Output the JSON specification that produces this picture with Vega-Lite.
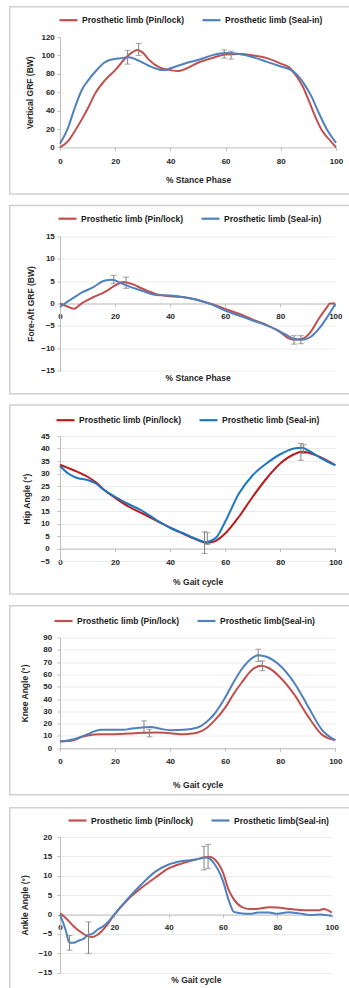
{
"$schema": "https://vega.github.io/schema/vega-lite/v6.json",
"padding": {"left": 8, "top": 5, "right": -3, "bottom": -8},
"background": "white",
"config": {
 "font": "Liberation Sans",
 "view": {"stroke": null},
 "axis": {"labelFont": "Liberation Sans", "labelFontWeight": "bold", "labelFontSize": 8, "labelColor": "#262626", "titleFont": "Liberation Sans", "titleFontWeight": "bold", "titleFontSize": 8.5, "titleColor": "#262626", "domainColor": "#bfbfbf", "tickColor": "#bfbfbf", "tickSize": 3, "gridColor": "#ececec", "labelFlush": false, "labelOverlap": false, "tickCount": 50, "format": "d"},
 "legend": {"labelFont": "Liberation Sans", "labelFontSize": 8.5, "labelFontWeight": "bold", "labelColor": "#1a1a1a", "symbolType": "stroke", "symbolSize": 324, "symbolStrokeWidth": 2.2, "labelOffset": 3, "columnPadding": 13, "padding": 0, "direction": "horizontal", "orient": "none", "title": null}
},
"datasets": {
 "p1": [
  {"x":0,"y":0,"s":"Pin/lock"},{"x":3,"y":7,"s":"Pin/lock"},{"x":5,"y":16,"s":"Pin/lock"},{"x":8,"y":31,"s":"Pin/lock"},{"x":10,"y":42,"s":"Pin/lock"},{"x":13,"y":60,"s":"Pin/lock"},{"x":16,"y":72,"s":"Pin/lock"},{"x":20,"y":84,"s":"Pin/lock"},{"x":24,"y":98,"s":"Pin/lock"},{"x":26,"y":103,"s":"Pin/lock"},{"x":28,"y":106,"s":"Pin/lock"},{"x":30,"y":103,"s":"Pin/lock"},{"x":32,"y":96,"s":"Pin/lock"},{"x":36,"y":87,"s":"Pin/lock"},{"x":40,"y":84,"s":"Pin/lock"},{"x":43,"y":83,"s":"Pin/lock"},{"x":46,"y":86,"s":"Pin/lock"},{"x":50,"y":92,"s":"Pin/lock"},{"x":55,"y":97,"s":"Pin/lock"},{"x":60,"y":101,"s":"Pin/lock"},{"x":65,"y":101.5,"s":"Pin/lock"},{"x":70,"y":100,"s":"Pin/lock"},{"x":75,"y":97,"s":"Pin/lock"},{"x":80,"y":91,"s":"Pin/lock"},{"x":83,"y":87,"s":"Pin/lock"},{"x":86,"y":76,"s":"Pin/lock"},{"x":88,"y":66,"s":"Pin/lock"},{"x":90,"y":52,"s":"Pin/lock"},{"x":93,"y":30,"s":"Pin/lock"},{"x":95,"y":18,"s":"Pin/lock"},{"x":98,"y":7,"s":"Pin/lock"},{"x":100,"y":0,"s":"Pin/lock"},
  {"x":0,"y":4,"s":"Seal-in"},{"x":3,"y":22,"s":"Seal-in"},{"x":5,"y":40,"s":"Seal-in"},{"x":8,"y":63,"s":"Seal-in"},{"x":10,"y":72,"s":"Seal-in"},{"x":13,"y":83,"s":"Seal-in"},{"x":16,"y":92,"s":"Seal-in"},{"x":18,"y":95,"s":"Seal-in"},{"x":22,"y":97,"s":"Seal-in"},{"x":25,"y":98,"s":"Seal-in"},{"x":28,"y":95,"s":"Seal-in"},{"x":32,"y":89,"s":"Seal-in"},{"x":36,"y":84.5,"s":"Seal-in"},{"x":38,"y":84,"s":"Seal-in"},{"x":40,"y":86,"s":"Seal-in"},{"x":45,"y":91,"s":"Seal-in"},{"x":50,"y":95,"s":"Seal-in"},{"x":55,"y":100,"s":"Seal-in"},{"x":60,"y":102.5,"s":"Seal-in"},{"x":65,"y":101.5,"s":"Seal-in"},{"x":70,"y":98,"s":"Seal-in"},{"x":75,"y":93,"s":"Seal-in"},{"x":80,"y":88,"s":"Seal-in"},{"x":83,"y":85,"s":"Seal-in"},{"x":85,"y":81.5,"s":"Seal-in"},{"x":88,"y":71,"s":"Seal-in"},{"x":91,"y":56,"s":"Seal-in"},{"x":94,"y":36,"s":"Seal-in"},{"x":97,"y":18,"s":"Seal-in"},{"x":100,"y":5,"s":"Seal-in"}
 ],
 "e1": [{"x":24.5,"lo":90.5,"hi":105.5},{"x":28.5,"lo":100,"hi":113},{"x":59.5,"lo":97,"hi":106},{"x":62,"lo":96,"hi":104.5}],
 "p2": [
  {"x":0,"y":0,"s":"Pin/lock"},{"x":2,"y":-0.5,"s":"Pin/lock"},{"x":5,"y":-1.2,"s":"Pin/lock"},{"x":8,"y":0.1,"s":"Pin/lock"},{"x":12,"y":1.4,"s":"Pin/lock"},{"x":16,"y":2.5,"s":"Pin/lock"},{"x":20,"y":4,"s":"Pin/lock"},{"x":23,"y":4.8,"s":"Pin/lock"},{"x":26,"y":4.4,"s":"Pin/lock"},{"x":30,"y":3.3,"s":"Pin/lock"},{"x":35,"y":2.1,"s":"Pin/lock"},{"x":40,"y":1.6,"s":"Pin/lock"},{"x":45,"y":1.4,"s":"Pin/lock"},{"x":50,"y":0.8,"s":"Pin/lock"},{"x":55,"y":-0.1,"s":"Pin/lock"},{"x":60,"y":-1.2,"s":"Pin/lock"},{"x":65,"y":-2.3,"s":"Pin/lock"},{"x":70,"y":-3.6,"s":"Pin/lock"},{"x":75,"y":-4.8,"s":"Pin/lock"},{"x":80,"y":-6.4,"s":"Pin/lock"},{"x":83,"y":-7.8,"s":"Pin/lock"},{"x":85,"y":-8.1,"s":"Pin/lock"},{"x":88,"y":-7.9,"s":"Pin/lock"},{"x":91,"y":-6.4,"s":"Pin/lock"},{"x":94,"y":-3.4,"s":"Pin/lock"},{"x":97,"y":-0.8,"s":"Pin/lock"},{"x":98,"y":0,"s":"Pin/lock"},{"x":100,"y":0,"s":"Pin/lock"},
  {"x":0,"y":-0.8,"s":"Seal-in"},{"x":2,"y":0.1,"s":"Seal-in"},{"x":5,"y":1.3,"s":"Seal-in"},{"x":8,"y":2.5,"s":"Seal-in"},{"x":12,"y":3.6,"s":"Seal-in"},{"x":16,"y":5.1,"s":"Seal-in"},{"x":19,"y":5.3,"s":"Seal-in"},{"x":22,"y":4.6,"s":"Seal-in"},{"x":26,"y":3.6,"s":"Seal-in"},{"x":30,"y":2.8,"s":"Seal-in"},{"x":35,"y":1.9,"s":"Seal-in"},{"x":40,"y":1.8,"s":"Seal-in"},{"x":45,"y":1.4,"s":"Seal-in"},{"x":50,"y":0.8,"s":"Seal-in"},{"x":55,"y":-0.2,"s":"Seal-in"},{"x":60,"y":-1.6,"s":"Seal-in"},{"x":65,"y":-2.7,"s":"Seal-in"},{"x":70,"y":-3.8,"s":"Seal-in"},{"x":75,"y":-4.9,"s":"Seal-in"},{"x":78,"y":-5.7,"s":"Seal-in"},{"x":82,"y":-7,"s":"Seal-in"},{"x":85,"y":-7.9,"s":"Seal-in"},{"x":88,"y":-8.1,"s":"Seal-in"},{"x":91,"y":-7.5,"s":"Seal-in"},{"x":94,"y":-5.7,"s":"Seal-in"},{"x":97,"y":-3.1,"s":"Seal-in"},{"x":100,"y":-0.1,"s":"Seal-in"}
 ],
 "e2": [{"x":19.5,"lo":4.4,"hi":6.3},{"x":24,"lo":3.4,"hi":5.9},{"x":85,"lo":-9.1,"hi":-7.2},{"x":87.5,"lo":-9,"hi":-7.2}],
 "p3": [
  {"x":0,"y":33.5,"s":"Pin/lock"},{"x":5,"y":31.3,"s":"Pin/lock"},{"x":10,"y":28.7,"s":"Pin/lock"},{"x":13,"y":26.5,"s":"Pin/lock"},{"x":16,"y":23.5,"s":"Pin/lock"},{"x":20,"y":20.3,"s":"Pin/lock"},{"x":25,"y":16.7,"s":"Pin/lock"},{"x":30,"y":14,"s":"Pin/lock"},{"x":35,"y":11.2,"s":"Pin/lock"},{"x":40,"y":8.3,"s":"Pin/lock"},{"x":45,"y":5.8,"s":"Pin/lock"},{"x":50,"y":3.4,"s":"Pin/lock"},{"x":53,"y":2.3,"s":"Pin/lock"},{"x":56,"y":2.8,"s":"Pin/lock"},{"x":60,"y":6,"s":"Pin/lock"},{"x":65,"y":12.7,"s":"Pin/lock"},{"x":70,"y":20.7,"s":"Pin/lock"},{"x":75,"y":28,"s":"Pin/lock"},{"x":80,"y":34,"s":"Pin/lock"},{"x":85,"y":37.7,"s":"Pin/lock"},{"x":88,"y":38.7,"s":"Pin/lock"},{"x":90,"y":38.4,"s":"Pin/lock"},{"x":95,"y":36.3,"s":"Pin/lock"},{"x":100,"y":33.3,"s":"Pin/lock"},
  {"x":0,"y":33,"s":"Seal-in"},{"x":3,"y":30,"s":"Seal-in"},{"x":6,"y":28.3,"s":"Seal-in"},{"x":10,"y":27.4,"s":"Seal-in"},{"x":13,"y":26,"s":"Seal-in"},{"x":16,"y":23.4,"s":"Seal-in"},{"x":20,"y":20.7,"s":"Seal-in"},{"x":25,"y":17.7,"s":"Seal-in"},{"x":30,"y":15,"s":"Seal-in"},{"x":35,"y":11.4,"s":"Seal-in"},{"x":40,"y":8.3,"s":"Seal-in"},{"x":45,"y":6,"s":"Seal-in"},{"x":50,"y":3.6,"s":"Seal-in"},{"x":53,"y":2.5,"s":"Seal-in"},{"x":55,"y":3.2,"s":"Seal-in"},{"x":57,"y":4.7,"s":"Seal-in"},{"x":60,"y":10.7,"s":"Seal-in"},{"x":65,"y":22,"s":"Seal-in"},{"x":70,"y":29.3,"s":"Seal-in"},{"x":75,"y":34,"s":"Seal-in"},{"x":80,"y":37.7,"s":"Seal-in"},{"x":85,"y":40,"s":"Seal-in"},{"x":88,"y":40.3,"s":"Seal-in"},{"x":90,"y":39.3,"s":"Seal-in"},{"x":95,"y":36,"s":"Seal-in"},{"x":100,"y":33.3,"s":"Seal-in"}
 ],
 "e3": [{"x":52.5,"lo":-2,"hi":6.7},{"x":53.5,"lo":1.6,"hi":6.3},{"x":87.5,"lo":35.3,"hi":42},{"x":88.5,"lo":38,"hi":41.5}],
 "p4": [
  {"x":0,"y":5.4,"s":"Pin/lock"},{"x":5,"y":6.5,"s":"Pin/lock"},{"x":8,"y":9.2,"s":"Pin/lock"},{"x":10,"y":10.3,"s":"Pin/lock"},{"x":15,"y":11.4,"s":"Pin/lock"},{"x":20,"y":11.4,"s":"Pin/lock"},{"x":25,"y":11.9,"s":"Pin/lock"},{"x":30,"y":12.5,"s":"Pin/lock"},{"x":35,"y":12.7,"s":"Pin/lock"},{"x":40,"y":12.2,"s":"Pin/lock"},{"x":45,"y":11.4,"s":"Pin/lock"},{"x":48,"y":11.9,"s":"Pin/lock"},{"x":50,"y":12.7,"s":"Pin/lock"},{"x":53,"y":16,"s":"Pin/lock"},{"x":56,"y":22.2,"s":"Pin/lock"},{"x":60,"y":33,"s":"Pin/lock"},{"x":63,"y":43.9,"s":"Pin/lock"},{"x":66,"y":53.4,"s":"Pin/lock"},{"x":70,"y":64.2,"s":"Pin/lock"},{"x":73,"y":67,"s":"Pin/lock"},{"x":76,"y":65,"s":"Pin/lock"},{"x":80,"y":57.5,"s":"Pin/lock"},{"x":85,"y":43.9,"s":"Pin/lock"},{"x":90,"y":26.3,"s":"Pin/lock"},{"x":95,"y":11.4,"s":"Pin/lock"},{"x":100,"y":6.5,"s":"Pin/lock"},
  {"x":0,"y":5.5,"s":"Seal-in"},{"x":5,"y":7.3,"s":"Seal-in"},{"x":8,"y":9.5,"s":"Seal-in"},{"x":10,"y":11.4,"s":"Seal-in"},{"x":13,"y":14.1,"s":"Seal-in"},{"x":15,"y":14.9,"s":"Seal-in"},{"x":20,"y":14.9,"s":"Seal-in"},{"x":23,"y":14.9,"s":"Seal-in"},{"x":26,"y":16,"s":"Seal-in"},{"x":30,"y":16.8,"s":"Seal-in"},{"x":33,"y":17.3,"s":"Seal-in"},{"x":36,"y":16,"s":"Seal-in"},{"x":40,"y":14.6,"s":"Seal-in"},{"x":45,"y":14.9,"s":"Seal-in"},{"x":50,"y":16.8,"s":"Seal-in"},{"x":53,"y":20.9,"s":"Seal-in"},{"x":56,"y":27.6,"s":"Seal-in"},{"x":60,"y":41.2,"s":"Seal-in"},{"x":63,"y":53.4,"s":"Seal-in"},{"x":66,"y":64.2,"s":"Seal-in"},{"x":70,"y":73.7,"s":"Seal-in"},{"x":72,"y":75.6,"s":"Seal-in"},{"x":75,"y":74.3,"s":"Seal-in"},{"x":80,"y":67,"s":"Seal-in"},{"x":85,"y":53.4,"s":"Seal-in"},{"x":90,"y":34.4,"s":"Seal-in"},{"x":95,"y":15.4,"s":"Seal-in"},{"x":100,"y":6.5,"s":"Seal-in"}
 ],
 "e4": [{"x":30.5,"lo":11.9,"hi":22.2},{"x":32.5,"lo":9.2,"hi":15.4},{"x":72,"lo":70.5,"hi":80.5},{"x":73.5,"lo":63,"hi":71}],
 "p5": [
  {"x":0,"y":0.3,"s":"Pin/lock"},{"x":2,"y":-0.8,"s":"Pin/lock"},{"x":5,"y":-3,"s":"Pin/lock"},{"x":8,"y":-4.7,"s":"Pin/lock"},{"x":10,"y":-5.5,"s":"Pin/lock"},{"x":12,"y":-5.8,"s":"Pin/lock"},{"x":14,"y":-5.1,"s":"Pin/lock"},{"x":17,"y":-3,"s":"Pin/lock"},{"x":20,"y":0,"s":"Pin/lock"},{"x":25,"y":3.9,"s":"Pin/lock"},{"x":30,"y":6.9,"s":"Pin/lock"},{"x":35,"y":9.5,"s":"Pin/lock"},{"x":40,"y":11.9,"s":"Pin/lock"},{"x":45,"y":13.2,"s":"Pin/lock"},{"x":50,"y":14.2,"s":"Pin/lock"},{"x":55,"y":14.9,"s":"Pin/lock"},{"x":57,"y":14.2,"s":"Pin/lock"},{"x":60,"y":10.8,"s":"Pin/lock"},{"x":62,"y":6.5,"s":"Pin/lock"},{"x":64,"y":3.9,"s":"Pin/lock"},{"x":67,"y":1.9,"s":"Pin/lock"},{"x":70,"y":1.4,"s":"Pin/lock"},{"x":73,"y":1.5,"s":"Pin/lock"},{"x":77,"y":1.9,"s":"Pin/lock"},{"x":80,"y":1.8,"s":"Pin/lock"},{"x":85,"y":1.4,"s":"Pin/lock"},{"x":90,"y":1.1,"s":"Pin/lock"},{"x":95,"y":1.1,"s":"Pin/lock"},{"x":97,"y":1.4,"s":"Pin/lock"},{"x":100,"y":0.5,"s":"Pin/lock"},
  {"x":0,"y":0,"s":"Seal-in"},{"x":2,"y":-3.8,"s":"Seal-in"},{"x":3.5,"y":-7.3,"s":"Seal-in"},{"x":5,"y":-7.3,"s":"Seal-in"},{"x":7,"y":-6.7,"s":"Seal-in"},{"x":9,"y":-6.1,"s":"Seal-in"},{"x":10,"y":-5.4,"s":"Seal-in"},{"x":12,"y":-4.9,"s":"Seal-in"},{"x":14,"y":-3.8,"s":"Seal-in"},{"x":16,"y":-3,"s":"Seal-in"},{"x":18,"y":-1.7,"s":"Seal-in"},{"x":20,"y":0,"s":"Seal-in"},{"x":25,"y":4.1,"s":"Seal-in"},{"x":30,"y":7.8,"s":"Seal-in"},{"x":35,"y":11,"s":"Seal-in"},{"x":40,"y":12.9,"s":"Seal-in"},{"x":45,"y":13.8,"s":"Seal-in"},{"x":50,"y":14.2,"s":"Seal-in"},{"x":54,"y":14.7,"s":"Seal-in"},{"x":57,"y":12.9,"s":"Seal-in"},{"x":60,"y":8.6,"s":"Seal-in"},{"x":62,"y":3.9,"s":"Seal-in"},{"x":64,"y":0.7,"s":"Seal-in"},{"x":67,"y":0.3,"s":"Seal-in"},{"x":70,"y":0.2,"s":"Seal-in"},{"x":73,"y":0.5,"s":"Seal-in"},{"x":77,"y":0.5,"s":"Seal-in"},{"x":80,"y":0.2,"s":"Seal-in"},{"x":84,"y":0.6,"s":"Seal-in"},{"x":88,"y":0.3,"s":"Seal-in"},{"x":92,"y":-0.1,"s":"Seal-in"},{"x":96,"y":0,"s":"Seal-in"},{"x":100,"y":-0.4,"s":"Seal-in"}
 ],
 "e5": [{"x":3.5,"lo":-9.2,"hi":-5.4},{"x":10.5,"lo":-10,"hi":-1.9},{"x":53,"lo":11.5,"hi":17.6},{"x":54.5,"lo":11.9,"hi":18.1}]
},
"columns": 1,
"bounds": "full",
"spacing": 9.5,
"resolve": {"scale": {"color": "independent"}},
"concat": [
 {
  "width": 276, "height": 110.4,
  "layer": [
   {"data": {"values": [{}]}, "mark": {"type": "rect", "filled": false, "stroke": "#d0d0d0", "strokeWidth": 1.5},
    "encoding": {"x": {"datum": -18.21, "type": "quantitative"}, "x2": {"datum": 105.8}, "y": {"datum": 152.9, "type": "quantitative"}, "y2": {"datum": -50.7}}},
   {"data": {"name": "p1"}, "mark": {"type": "line", "interpolate": "monotone", "strokeWidth": 2},
    "encoding": {
     "x": {"field": "x", "type": "quantitative", "scale": {"domain": [0, 100], "nice": false}, "axis": {"title": "% Stance Phase", "values": [0,20,40,60,80,100], "tickCount": 50, "format": "d", "grid": false, "labelOverlap": false, "labelPadding": 7.5, "titleY": 32.3, "titleBaseline": "middle"}},
     "y": {"field": "y", "type": "quantitative", "scale": {"domain": [0, 120], "nice": false, "zero": false}, "axis": {"title": "Vertical GRF (BW)", "values": [0,20,40,60,80,100,120], "tickCount": 50, "format": "d", "grid": false, "labelOverlap": false, "labelPadding": 2.7, "titleX": -31, "titleBaseline": "middle"}},
     "color": {"field": "s", "type": "nominal", "scale": {"domain": ["Pin/lock", "Seal-in"], "range": ["#c0504d", "#4f81bd"]}, "legend": {"legendX": -2, "legendY": -27.3, "labelExpr": "'Prosthetic limb (' + datum.label + ')'"}}
    }},
   {"data": {"name": "e1"}, "mark": {"type": "rule", "color": "#808080", "strokeWidth": 1},
    "encoding": {"x": {"field": "x", "type": "quantitative"}, "y": {"field": "lo", "type": "quantitative"}, "y2": {"field": "hi"}}},
   {"data": {"name": "e1"}, "mark": {"type": "tick", "orient": "horizontal", "color": "#808080", "size": 6, "thickness": 1},
    "encoding": {"x": {"field": "x", "type": "quantitative"}, "y": {"field": "lo", "type": "quantitative"}}},
   {"data": {"name": "e1"}, "mark": {"type": "tick", "orient": "horizontal", "color": "#808080", "size": 6, "thickness": 1},
    "encoding": {"x": {"field": "x", "type": "quantitative"}, "y": {"field": "hi", "type": "quantitative"}}}
  ]
 },
 {
  "width": 275.3, "height": 134,
  "layer": [
   {"data": {"values": [{}]}, "mark": {"type": "rect", "filled": false, "stroke": "#d0d0d0", "strokeWidth": 1.5},
    "encoding": {"x": {"datum": -18.25, "type": "quantitative"}, "x2": {"datum": 106.07}, "y": {"datum": 21.94, "type": "quantitative"}, "y2": {"datum": -20.2}}},
   {"data": {"name": "p2"}, "mark": {"type": "line", "interpolate": "monotone", "strokeWidth": 2},
    "encoding": {
     "x": {"field": "x", "type": "quantitative", "scale": {"domain": [0, 100], "nice": false}, "axis": {"title": "% Stance Phase", "values": [0,20,40,60,80,100], "tickCount": 50, "format": "d", "grid": false, "labelOverlap": false, "offset": -67, "labelPadding": 5.5, "titleY": 74, "titleBaseline": "middle"}},
     "y": {"field": "y", "type": "quantitative", "scale": {"domain": [-15, 15], "nice": false, "zero": false}, "axis": {"title": "Fore-Aft GRF (BW)", "values": [-15,-10,-5,0,5,10,15], "tickCount": 50, "format": "d", "grid": true, "labelOverlap": false, "labelPadding": 2.7, "titleX": -30, "titleBaseline": "middle"}},
     "color": {"field": "s", "type": "nominal", "scale": {"domain": ["Pin/lock", "Seal-in"], "range": ["#c0504d", "#4f81bd"]}, "legend": {"legendX": -3, "legendY": -28.3, "labelExpr": "'Prosthetic limb (' + datum.label + ')'"}}
    }},
   {"data": {"name": "e2"}, "mark": {"type": "rule", "color": "#808080", "strokeWidth": 1},
    "encoding": {"x": {"field": "x", "type": "quantitative"}, "y": {"field": "lo", "type": "quantitative"}, "y2": {"field": "hi"}}},
   {"data": {"name": "e2"}, "mark": {"type": "tick", "orient": "horizontal", "color": "#808080", "size": 6, "thickness": 1},
    "encoding": {"x": {"field": "x", "type": "quantitative"}, "y": {"field": "lo", "type": "quantitative"}}},
   {"data": {"name": "e2"}, "mark": {"type": "tick", "orient": "horizontal", "color": "#808080", "size": 6, "thickness": 1},
    "encoding": {"x": {"field": "x", "type": "quantitative"}, "y": {"field": "hi", "type": "quantitative"}}}
  ]
 },
 {
  "width": 275.3, "height": 125,
  "layer": [
   {"data": {"values": [{}]}, "mark": {"type": "rect", "filled": false, "stroke": "#d0d0d0", "strokeWidth": 1.5},
    "encoding": {"x": {"datum": -18.25, "type": "quantitative"}, "x2": {"datum": 106.07}, "y": {"datum": 57.4, "type": "quantitative"}, "y2": {"datum": -18.2}}},
   {"data": {"name": "p3"}, "mark": {"type": "line", "interpolate": "monotone", "strokeWidth": 2},
    "encoding": {
     "x": {"field": "x", "type": "quantitative", "scale": {"domain": [0, 100], "nice": false}, "axis": {"title": "% Gait cycle", "values": [0,20,40,60,80,100], "tickCount": 50, "format": "d", "grid": false, "labelOverlap": false, "offset": -12.5, "labelPadding": 6.5, "titleY": 32.5, "titleBaseline": "middle"}},
     "y": {"field": "y", "type": "quantitative", "scale": {"domain": [-5, 45], "nice": false, "zero": false}, "axis": {"title": "Hip Angle (°)", "values": [-5,0,5,10,15,20,25,30,35,40,45], "tickCount": 50, "format": "d", "grid": true, "labelOverlap": false, "labelPadding": 7.7, "titleX": -33.3, "titleBaseline": "middle"}},
     "color": {"field": "s", "type": "nominal", "scale": {"domain": ["Pin/lock", "Seal-in"], "range": ["#b81c1c", "#1a78c2"]}, "legend": {"legendX": -5, "legendY": -26.3, "labelExpr": "'Prosthetic limb (' + datum.label + ')'"}}
    }},
   {"data": {"name": "e3"}, "mark": {"type": "rule", "color": "#808080", "strokeWidth": 1},
    "encoding": {"x": {"field": "x", "type": "quantitative"}, "y": {"field": "lo", "type": "quantitative"}, "y2": {"field": "hi"}}},
   {"data": {"name": "e3"}, "mark": {"type": "tick", "orient": "horizontal", "color": "#808080", "size": 6, "thickness": 1},
    "encoding": {"x": {"field": "x", "type": "quantitative"}, "y": {"field": "lo", "type": "quantitative"}}},
   {"data": {"name": "e3"}, "mark": {"type": "tick", "orient": "horizontal", "color": "#808080", "size": 6, "thickness": 1},
    "encoding": {"x": {"field": "x", "type": "quantitative"}, "y": {"field": "hi", "type": "quantitative"}}}
  ]
 },
 {
  "width": 275.3, "height": 110.7,
  "layer": [
   {"data": {"values": [{}]}, "mark": {"type": "rect", "filled": false, "stroke": "#d0d0d0", "strokeWidth": 1.5},
    "encoding": {"x": {"datum": -18.25, "type": "quantitative"}, "x2": {"datum": 106.07}, "y": {"datum": 115.8, "type": "quantitative"}, "y2": {"datum": -37.9}}},
   {"data": {"name": "p4"}, "mark": {"type": "line", "interpolate": "monotone", "strokeWidth": 2},
    "encoding": {
     "x": {"field": "x", "type": "quantitative", "scale": {"domain": [0, 100], "nice": false}, "axis": {"title": "% Gait cycle", "values": [0,20,40,60,80,100], "tickCount": 50, "format": "d", "grid": false, "labelOverlap": false, "labelPadding": 6, "titleY": 36.6, "titleBaseline": "middle"}},
     "y": {"field": "y", "type": "quantitative", "scale": {"domain": [0, 90], "nice": false, "zero": false}, "axis": {"title": "Knee Angle (°)", "values": [0,10,20,30,40,50,60,70,80,90], "tickCount": 50, "format": "d", "grid": true, "labelOverlap": false, "labelPadding": 5.3, "titleX": -35.7, "titleBaseline": "middle"}},
     "color": {"field": "s", "type": "nominal", "scale": {"domain": ["Pin/lock", "Seal-in"], "range": ["#c0504d", "#4f81bd"]}, "legend": {"legendX": -7, "legendY": -27, "labelExpr": "datum.label == 'Seal-in' ? 'Prosthetic limb(Seal-in)' : 'Prosthetic limb (Pin/lock)'"}}
    }},
   {"data": {"name": "e4"}, "mark": {"type": "rule", "color": "#808080", "strokeWidth": 1},
    "encoding": {"x": {"field": "x", "type": "quantitative"}, "y": {"field": "lo", "type": "quantitative"}, "y2": {"field": "hi"}}},
   {"data": {"name": "e4"}, "mark": {"type": "tick", "orient": "horizontal", "color": "#808080", "size": 6, "thickness": 1},
    "encoding": {"x": {"field": "x", "type": "quantitative"}, "y": {"field": "lo", "type": "quantitative"}}},
   {"data": {"name": "e4"}, "mark": {"type": "tick", "orient": "horizontal", "color": "#808080", "size": 6, "thickness": 1},
    "encoding": {"x": {"field": "x", "type": "quantitative"}, "y": {"field": "hi", "type": "quantitative"}}}
  ]
 },
 {
  "width": 271.7, "height": 135.7,
  "layer": [
   {"data": {"values": [{}]}, "mark": {"type": "rect", "filled": false, "stroke": "#d0d0d0", "strokeWidth": 1.5},
    "encoding": {"x": {"datum": -18.49, "type": "quantitative"}, "x2": {"datum": 107.47}, "y": {"datum": 27.56, "type": "quantitative"}, "y2": {"datum": -21.4}}},
   {"data": {"name": "p5"}, "mark": {"type": "line", "interpolate": "monotone", "strokeWidth": 2},
    "encoding": {
     "x": {"field": "x", "type": "quantitative", "scale": {"domain": [0, 100], "nice": false}, "axis": {"title": "% Gait cycle", "values": [0,20,40,60,80,100], "tickCount": 50, "format": "d", "grid": false, "labelOverlap": false, "offset": -58.2, "labelPadding": 5.5, "titleY": 64.9, "titleBaseline": "middle"}},
     "y": {"field": "y", "type": "quantitative", "scale": {"domain": [-15, 20], "nice": false, "zero": false}, "axis": {"title": "Ankle Angle (°)", "values": [-15,-10,-5,0,5,10,15,20], "tickCount": 50, "format": "d", "grid": true, "labelOverlap": false, "labelPadding": 5.3, "titleX": -35.7, "titleBaseline": "middle"}},
     "color": {"field": "s", "type": "nominal", "scale": {"domain": ["Pin/lock", "Seal-in"], "range": ["#c0504d", "#4f81bd"]}, "legend": {"legendX": 7, "legendY": -27, "labelExpr": "datum.label == 'Seal-in' ? 'Prosthetic limb(Seal-in)' : 'Prosthetic limb (Pin/lock)'"}}
    }},
   {"data": {"name": "e5"}, "mark": {"type": "rule", "color": "#808080", "strokeWidth": 1},
    "encoding": {"x": {"field": "x", "type": "quantitative"}, "y": {"field": "lo", "type": "quantitative"}, "y2": {"field": "hi"}}},
   {"data": {"name": "e5"}, "mark": {"type": "tick", "orient": "horizontal", "color": "#808080", "size": 6, "thickness": 1},
    "encoding": {"x": {"field": "x", "type": "quantitative"}, "y": {"field": "lo", "type": "quantitative"}}},
   {"data": {"name": "e5"}, "mark": {"type": "tick", "orient": "horizontal", "color": "#808080", "size": 6, "thickness": 1},
    "encoding": {"x": {"field": "x", "type": "quantitative"}, "y": {"field": "hi", "type": "quantitative"}}}
  ]
 }
]
}
